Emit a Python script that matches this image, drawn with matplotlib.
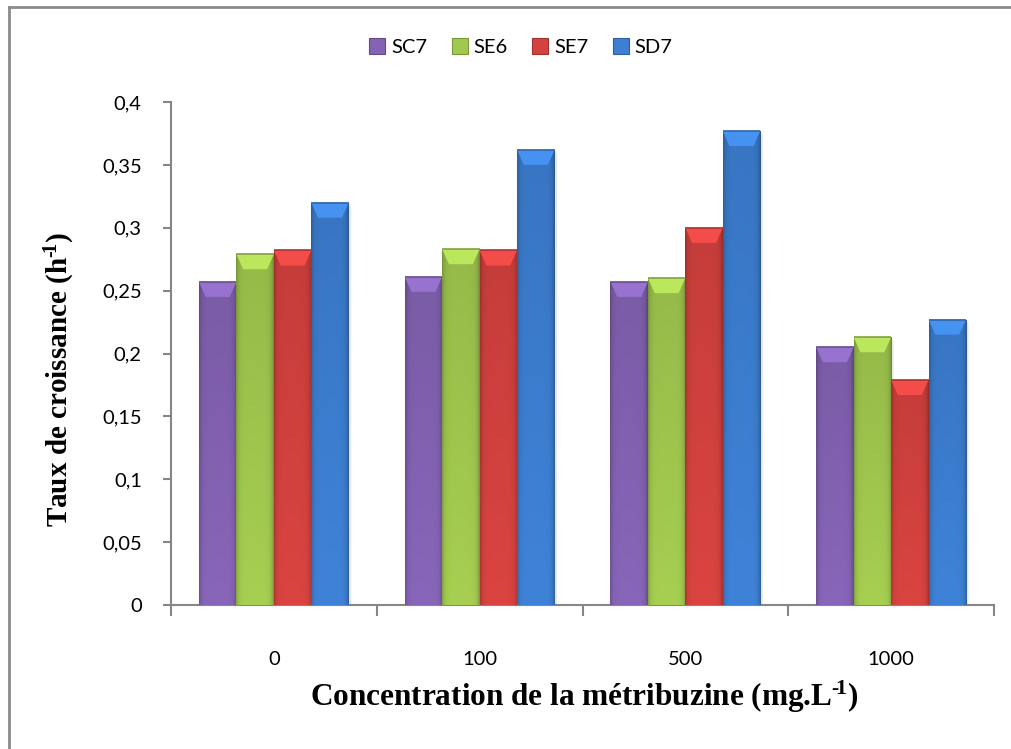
import numpy as np
import matplotlib
matplotlib.use("Agg")
import matplotlib.pyplot as plt
from matplotlib.patches import Polygon, Patch
from matplotlib.lines import Line2D
from matplotlib.colors import to_rgb

plt.rcParams['font.family'] = ['Lato', 'DejaVu Sans']
plt.rcParams['mathtext.fontset'] = 'custom'
plt.rcParams['mathtext.rm'] = 'Liberation Serif:bold'
plt.rcParams['mathtext.default'] = 'rm'

# data
concentrations = ['0', '100', '500', '1000']
series = ['SC7', 'SE6', 'SE7', 'SD7']
sc7 = [0.257, 0.261, 0.257, 0.205]
se6 = [0.279, 0.283, 0.260, 0.213]
se7 = [0.282, 0.282, 0.300, 0.179]
sd7 = [0.320, 0.362, 0.377, 0.227]
colors = ['#8463b4', '#a2c94f', '#d4423f', '#3d7fd2']

W, H = 1011, 749
fig = plt.figure(figsize=(W / 100, H / 100), dpi=100)
ax = fig.add_axes([171 / W, 1 - 605 / H, (994 - 171) / W, (605 - 102) / H])

bw = 0.182
centers = np.arange(len(concentrations)) + 0.5
gray = '#868686'


def shade(c, f):
    r = np.array(to_rgb(c)) * f
    return np.clip(r, 0, 1)


def fancy_bars(ax, xs, vals, color):
    bars = ax.bar(xs, vals, width=bw, color=color, edgecolor='none', zorder=2)
    # horizontal profile: darker edges, lighter middle
    t = np.linspace(0, 1, 60)
    f = 1.03 - 0.22 * np.exp(-t / 0.06) - 0.28 * np.exp(-(1 - t) / 0.06)
    base = np.array(to_rgb(color))
    for b in bars:
        x0, h = b.get_x(), b.get_height()
        v = np.linspace(1.0, 0.9, 40)[:, None]
        img = np.clip(base[None, None, :] * f[None, :, None] * v[:, :, None], 0, 1)
        im = ax.imshow(img, extent=(x0, x0 + bw, h, 0), aspect='auto',
                       origin='upper', zorder=3, interpolation='bilinear')
        im.set_clip_path(b)
        # soft shadow on the right side
        ax.add_patch(Polygon([(x0 + bw, 0), (x0 + bw + 0.012, 0),
                              (x0 + bw + 0.012, h - 0.004), (x0 + bw, h)],
                             closed=True, facecolor='#e6e6e6', edgecolor='none', zorder=1))
        # top bevel
        d = 0.012
        inset = bw * 0.18
        ax.add_patch(Polygon([(x0, h), (x0 + bw, h), (x0 + bw - inset, h - d), (x0 + inset, h - d)],
                             closed=True, facecolor=shade(color, 1.15), edgecolor='none', zorder=4))
        ax.plot([x0, x0 + bw], [h, h], color=shade(color, 0.8), lw=1.2, zorder=5,
                solid_capstyle='butt')
    return bars


for i, (vals, c) in enumerate(zip([sc7, se6, se7, sd7], colors)):
    fancy_bars(ax, centers + (i - 1.5) * bw, vals, c)

ax.set_xlim(0, len(concentrations))
ax.set_ylim(0, 0.4)
ax.set_yticks(np.arange(0, 0.401, 0.05))
ax.set_yticklabels(['0'] + [f'{v:g}'.replace('.', ',') for v in np.arange(0.05, 0.401, 0.05)])
ax.set_xticks(np.arange(0, len(concentrations) + 1))
ax.set_xticklabels([])
ax.set_xticks(centers, minor=True)
ax.set_xticklabels(concentrations, minor=True)
ax.tick_params(axis='x', which='major', length=8, width=1.5, color=gray, direction='out')
ax.tick_params(axis='x', which='minor', length=0, pad=33, labelsize=14.5)
ax.tick_params(axis='y', length=6, width=1.5, color=gray, direction='out', pad=15, labelsize=14.5)

for s in ['top', 'right']:
    ax.spines[s].set_visible(False)
for s in ['left', 'bottom']:
    ax.spines[s].set_color(gray)
    ax.spines[s].set_linewidth(1.5)

fig.text(60 / W, 1 - 380 / H, 'Taux de croissance (h$^{\u2010\\!1}$)', rotation=90,
         ha='center', va='center', fontsize=21, fontweight='bold',
         family='Liberation Serif')
fig.text(584 / W, 1 - 697 / H, 'Concentration de la métribuzine (mg.L$^{\u2010\\!1}$)',
         ha='center', va='center', fontsize=22.5, fontweight='bold',
         family='Liberation Serif')

handles = [Patch(facecolor=c, edgecolor=shade(c, 0.75), linewidth=0.8) for c in colors]
fig.legend(handles, series, loc='center', bbox_to_anchor=(521 / W, 1 - 47 / H),
           ncol=4, frameon=False, fontsize=14.5, handlelength=0.8, handleheight=0.8,
           handletextpad=0.3, columnspacing=1.2)

# chart frame
fig.add_artist(Line2D([9 / W, 9 / W], [0, 1 - 7 / H], color='#8a8a8a', lw=2))
fig.add_artist(Line2D([9 / W, 1], [1 - 7 / H, 1 - 7 / H], color='#8a8a8a', lw=2))

fig.savefig('out.png', dpi=100)
